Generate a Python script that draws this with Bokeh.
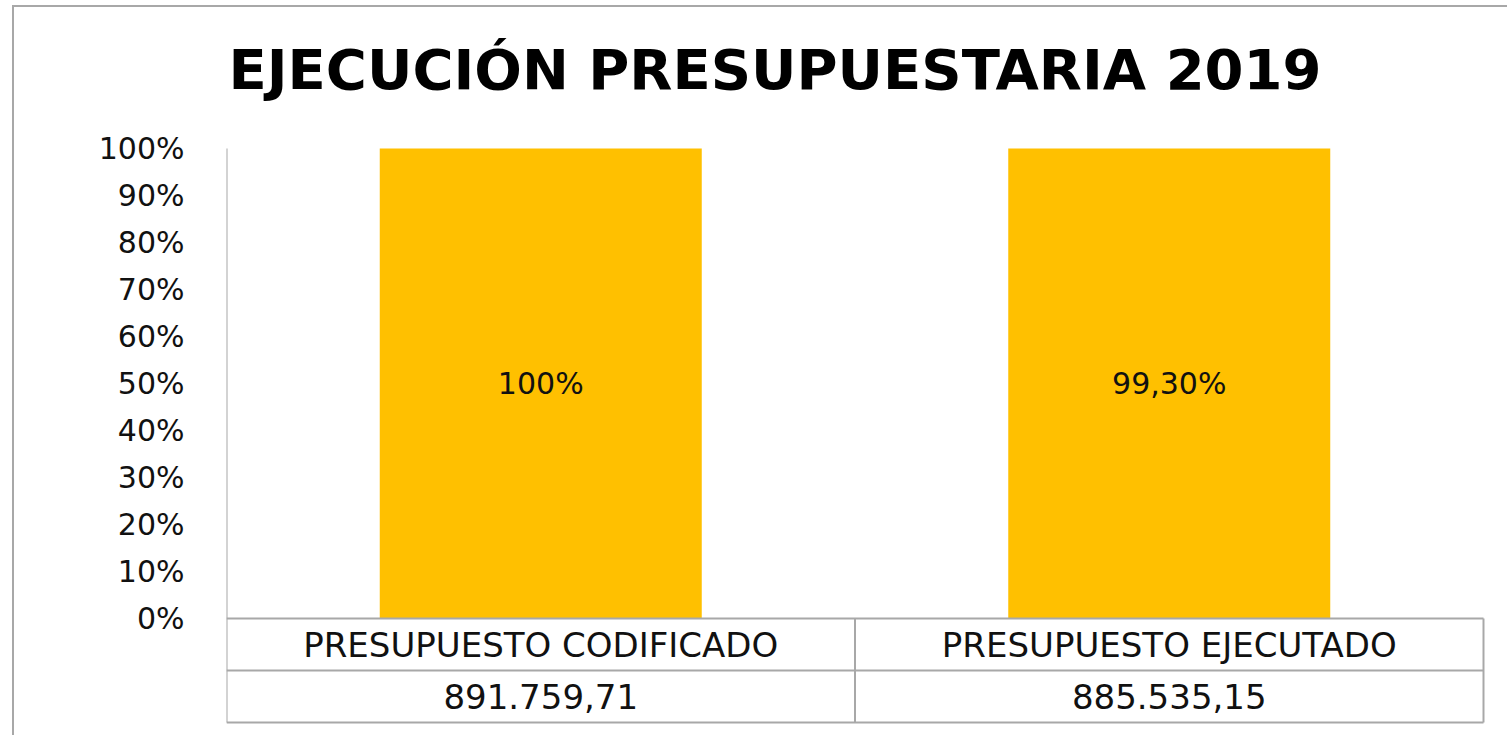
from bokeh.plotting import figure
from bokeh.models import Range1d, FixedTicker, NumeralTickFormatter, ColumnDataSource
from bokeh.core.properties import value
from bokeh.embed import file_html
from bokeh.resources import INLINE

# ---- data ----
title_text = "EJECUCIÓN PRESUPUESTARIA 2019"
categories = ["PRESUPUESTO CODIFICADO", "PRESUPUESTO EJECUTADO"]
bar_share = [1.0, 1.0]            # 100% stacked: both bars fill the column
bar_labels = ["100%", "99,30%"]
table_values = ["891.759,71", "885.535,15"]
y_ticks = [0, 0.1, 0.2, 0.3, 0.4, 0.5, 0.6, 0.7, 0.8, 0.9, 1.0]

# ---- layout constants (window pixels) ----
WIN_W, WIN_H = 1509, 737
BX, BY, BW = 12, 5, 2          # outer chart border position / width
OX, OY = BX + BW, BY + BW      # canvas origin in window
W, H = WIN_W - OX, WIN_H - OY
AXIS_X, ZERO_Y, HUNDRED_Y = 226, 618, 148   # window pixels
TITLE_X, TITLE_MID_Y = 228, 69
px_per_unit_y = float(ZERO_Y - HUNDRED_Y)
px_per_cat = 628.5
row_h = 52.0
frame_left = AXIS_X - OX

n = len(categories)
y_end = (ZERO_Y - OY) / px_per_unit_y
y_start = -(WIN_H - ZERO_Y) / px_per_unit_y
x_end = (WIN_W - AXIS_X) / px_per_cat

p = figure(width=W, height=H, output_backend="svg", toolbar_location=None,
           x_range=Range1d(0, x_end), y_range=Range1d(y_start, y_end),
           min_border_left=frame_left, min_border_right=0,
           min_border_top=0, min_border_bottom=0,
           background_fill_color="white", border_fill_color="white")
p.margin = (BY, 0, 0, BX)
p.styles = {"border-top": f"{BW}px solid #a8a8a8",
            "border-left": f"{BW}px solid #a8a8a8"}
p.outline_line_color = None
p.grid.visible = False
p.xaxis.visible = False

yax = p.yaxis[0]
yax.ticker = FixedTicker(ticks=y_ticks)
yax.formatter = NumeralTickFormatter(format="0%")
yax.axis_line_color = None
yax.major_tick_line_color = None
yax.minor_tick_line_color = None
yax.major_tick_out = 0
yax.major_label_standoff = 42
yax.major_label_text_font = "DejaVu Sans"
yax.major_label_text_font_size = "30px"
yax.major_label_text_color = "#111111"

# title
p.text(x=[(TITLE_X - AXIS_X) / px_per_cat],
       y=[(ZERO_Y - TITLE_MID_Y) / px_per_unit_y],
       text=[title_text], text_align="left", text_baseline="middle",
       text_font=value("DejaVu Sans"), text_font_style="bold",
       text_font_size="56px", text_color="#000000")

# bars
xs = [i + 0.5 for i in range(n)]
src = ColumnDataSource(dict(x=xs, top=bar_share, lab=bar_labels,
                            ly=[v / 2 for v in bar_share]))
p.vbar(x="x", top="top", bottom=0, width=322 / px_per_cat, source=src,
       fill_color="#FFC000", line_color=None)
p.text(x="x", y="ly", text="lab", source=src, text_align="center",
       text_baseline="middle", text_font=value("DejaVu Sans"),
       text_font_size="30px", text_color="#111111")

# data table below the bars
r1 = -row_h / px_per_unit_y
r2 = -2 * row_h / px_per_unit_y
line_col = "#a8a8a8"
# axis line continuing into the table left border
p.segment(x0=[0], y0=[r2], x1=[0], y1=[1.0], line_color=line_col, line_width=2)
p.segment(x0=[0, 0, 0], y0=[0, r1, r2], x1=[n, n, n], y1=[0, r1, r2],
          line_color=line_col, line_width=2)
p.segment(x0=list(range(1, n + 1)), y0=[r2] * n, x1=list(range(1, n + 1)),
          y1=[0] * n, line_color=line_col, line_width=2)

tsrc = ColumnDataSource(dict(x=xs, cat=categories, val=table_values,
                             y1=[r1 / 2] * n, y2=[(r1 + r2) / 2] * n))
p.text(x="x", y="y1", text="cat", source=tsrc, text_align="center",
       text_baseline="middle", text_font=value("DejaVu Sans"),
       text_font_size="34px", text_color="#111111")
p.text(x="x", y="y2", text="val", source=tsrc, text_align="center",
       text_baseline="middle", text_font=value("DejaVu Sans"),
       text_font_size="34px", text_color="#111111")

open("out.html", "w").write(file_html(p, INLINE))
